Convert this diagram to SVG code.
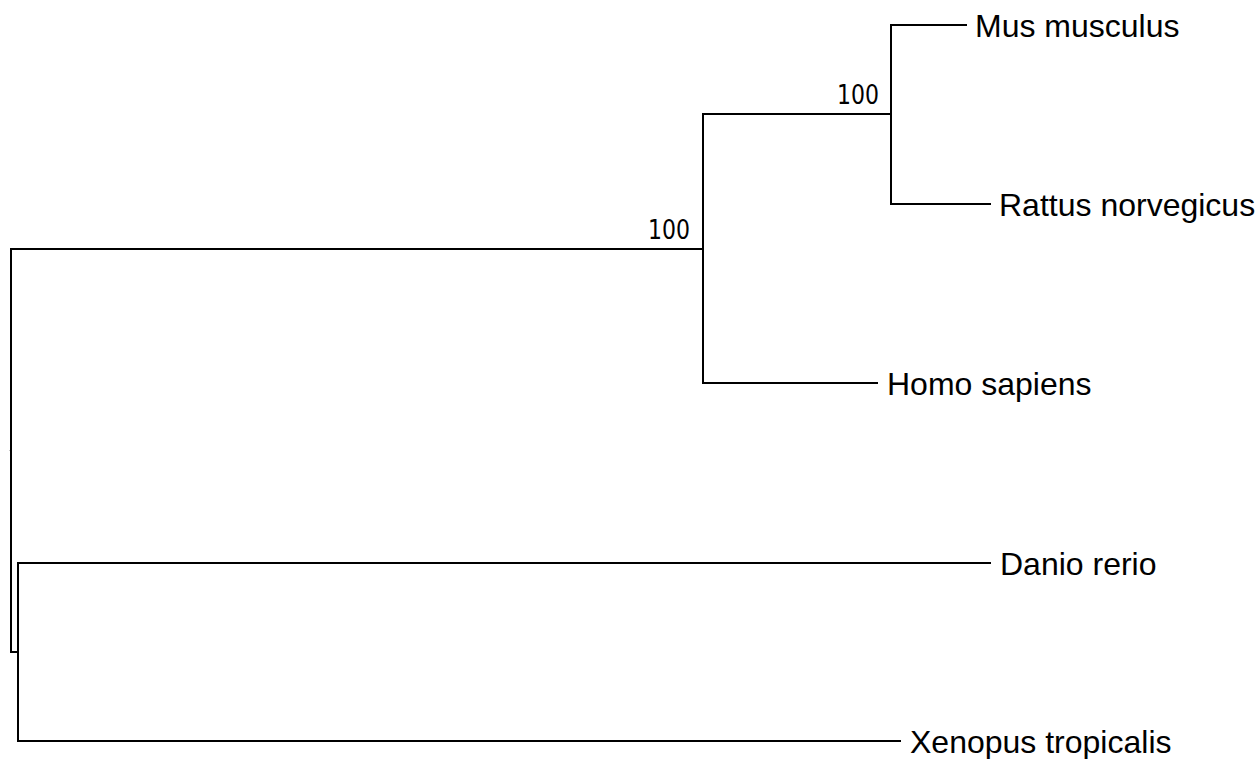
<svg xmlns="http://www.w3.org/2000/svg" width="1259" height="759" viewBox="0 0 1259 759">
  <style>
    .edge { fill: none; stroke: #000; stroke-width: 2; stroke-linejoin: miter; stroke-linecap: square; }
    .stub { fill: none; stroke: #c8c8c8; stroke-width: 1; }
    .leaf { font-family: "Liberation Sans", Arial, sans-serif; font-size: 32px; fill: #000; }
    .support { font-family: "DejaVu Sans", Verdana, sans-serif; font-size: 27px; fill: #000; text-anchor: end; }
  </style>
  <rect width="1259" height="759" fill="#fff"/>

  <!-- branches of the tree (rectangular cladogram) -->
  <g id="connectors">
    <!-- root -->
    <path class="stub" d="M9,450.5 H11"/>
    <path class="edge" d="M703,249 H11 V652 H18"/>
    <!-- mammal clade -->
    <path class="edge" d="M891,114 H703 V383 H877"/>
    <!-- rodent clade -->
    <path class="edge" d="M966,25 H891 V204 H990"/>
    <!-- fish / frog clade -->
    <path class="edge" d="M990,563 H18 V741 H900"/>
  </g>

  <!-- internal nodes with bootstrap support -->
  <g id="node-mammalia">
    <text class="support" x="690" y="239" textLength="42" lengthAdjust="spacingAndGlyphs">100</text>
  </g>
  <g id="node-rodentia">
    <text class="support" x="879" y="104" textLength="42" lengthAdjust="spacingAndGlyphs">100</text>
  </g>

  <!-- leaves -->
  <g id="leaf-mus-musculus">
    <text class="leaf" x="975" y="37">Mus musculus</text>
  </g>
  <g id="leaf-rattus-norvegicus">
    <text class="leaf" x="999" y="216">Rattus norvegicus</text>
  </g>
  <g id="leaf-homo-sapiens">
    <text class="leaf" x="887" y="395">Homo sapiens</text>
  </g>
  <g id="leaf-danio-rerio">
    <text class="leaf" x="1000" y="575">Danio rerio</text>
  </g>
  <g id="leaf-xenopus-tropicalis">
    <text class="leaf" x="910" y="753">Xenopus tropicalis</text>
  </g>
</svg>
